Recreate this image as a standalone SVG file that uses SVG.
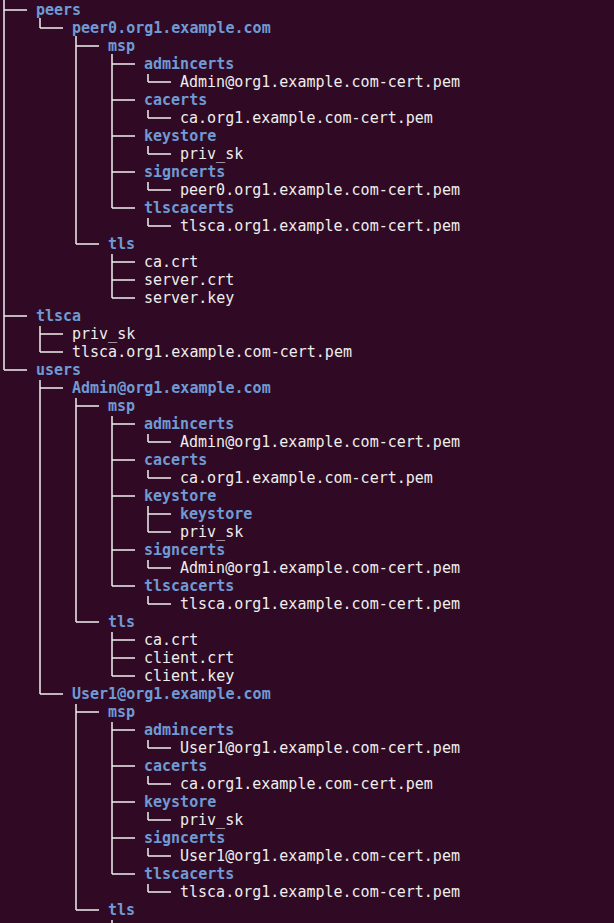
<svg xmlns="http://www.w3.org/2000/svg" width="614" height="923" viewBox="0 0 614 923">
<style>
text{font-family:"DejaVu Sans Mono","Liberation Mono",monospace;font-size:15px}
.d{fill:#6f9ad4;font-weight:bold}
.f{fill:#eeeeec}
.l{stroke:#eeeeec;stroke-width:1.5;fill:none}
</style>
<rect width="614" height="923" fill="#300a24"/>
<g id="connectors">
<path class="l" d="M4 0V370 M40 18V28 M40 326V352 M40 380V694 M76 36V244 M76 398V622 M76 704V910 M112 54V208 M112 254V298 M112 416V586 M112 632V676 M112 722V874 M112 920V923 M148 74V82 M148 110V118 M148 146V154 M148 182V190 M148 218V226 M148 434V442 M148 470V478 M148 506V532 M148 560V568 M148 596V604 M148 740V748 M148 776V784 M148 812V820 M148 848V856 M148 884V892"/>
<path class="l" d="M4 10H27 M40 28H63 M76 46H99 M112 64H135 M148 82H171 M112 100H135 M148 118H171 M112 136H135 M148 154H171 M112 172H135 M148 190H171 M112 208H135 M148 226H171 M76 244H99 M112 262H135 M112 280H135 M112 298H135 M4 316H27 M40 334H63 M40 352H63 M4 370H27 M40 388H63 M76 406H99 M112 424H135 M148 442H171 M112 460H135 M148 478H171 M112 496H135 M148 514H171 M148 532H171 M112 550H135 M148 568H171 M112 586H135 M148 604H171 M76 622H99 M112 640H135 M112 658H135 M112 676H135 M40 694H63 M76 712H99 M112 730H135 M148 748H171 M112 766H135 M148 784H171 M112 802H135 M148 820H171 M112 838H135 M148 856H171 M112 874H135 M148 892H171 M76 910H99"/>
</g>
<g id="n-peers"><text class="d" x="36" y="15">peers</text></g>
<g id="n-peer0"><text class="d" x="72" y="33">peer0.org1.example.com</text></g>
<g id="n-msp1"><text class="d" x="108" y="51">msp</text></g>
<g id="n-admincerts1"><text class="d" x="144" y="69">admincerts</text><text class="f" x="180" y="87">Admin@org1.example.com-cert.pem</text></g>
<g id="n-cacerts1"><text class="d" x="144" y="105">cacerts</text><text class="f" x="180" y="123">ca.org1.example.com-cert.pem</text></g>
<g id="n-keystore1"><text class="d" x="144" y="141">keystore</text><text class="f" x="180" y="159">priv_sk</text></g>
<g id="n-signcerts1"><text class="d" x="144" y="177">signcerts</text><text class="f" x="180" y="195">peer0.org1.example.com-cert.pem</text></g>
<g id="n-tlscacerts1"><text class="d" x="144" y="213">tlscacerts</text><text class="f" x="180" y="231">tlsca.org1.example.com-cert.pem</text></g>
<g id="n-tls1"><text class="d" x="108" y="249">tls</text><text class="f" x="144" y="267">ca.crt</text><text class="f" x="144" y="285">server.crt</text><text class="f" x="144" y="303">server.key</text></g>
<g id="n-tlsca"><text class="d" x="36" y="321">tlsca</text><text class="f" x="72" y="339">priv_sk</text><text class="f" x="72" y="357">tlsca.org1.example.com-cert.pem</text></g>
<g id="n-users"><text class="d" x="36" y="375">users</text></g>
<g id="n-admin"><text class="d" x="72" y="393">Admin@org1.example.com</text></g>
<g id="n-msp2"><text class="d" x="108" y="411">msp</text></g>
<g id="n-admincerts2"><text class="d" x="144" y="429">admincerts</text><text class="f" x="180" y="447">Admin@org1.example.com-cert.pem</text></g>
<g id="n-cacerts2"><text class="d" x="144" y="465">cacerts</text><text class="f" x="180" y="483">ca.org1.example.com-cert.pem</text></g>
<g id="n-keystore2"><text class="d" x="144" y="501">keystore</text><text class="d" x="180" y="519">keystore</text><text class="f" x="180" y="537">priv_sk</text></g>
<g id="n-signcerts2"><text class="d" x="144" y="555">signcerts</text><text class="f" x="180" y="573">Admin@org1.example.com-cert.pem</text></g>
<g id="n-tlscacerts2"><text class="d" x="144" y="591">tlscacerts</text><text class="f" x="180" y="609">tlsca.org1.example.com-cert.pem</text></g>
<g id="n-tls2"><text class="d" x="108" y="627">tls</text><text class="f" x="144" y="645">ca.crt</text><text class="f" x="144" y="663">client.crt</text><text class="f" x="144" y="681">client.key</text></g>
<g id="n-user1"><text class="d" x="72" y="699">User1@org1.example.com</text></g>
<g id="n-msp3"><text class="d" x="108" y="717">msp</text></g>
<g id="n-admincerts3"><text class="d" x="144" y="735">admincerts</text><text class="f" x="180" y="753">User1@org1.example.com-cert.pem</text></g>
<g id="n-cacerts3"><text class="d" x="144" y="771">cacerts</text><text class="f" x="180" y="789">ca.org1.example.com-cert.pem</text></g>
<g id="n-keystore3"><text class="d" x="144" y="807">keystore</text><text class="f" x="180" y="825">priv_sk</text></g>
<g id="n-signcerts3"><text class="d" x="144" y="843">signcerts</text><text class="f" x="180" y="861">User1@org1.example.com-cert.pem</text></g>
<g id="n-tlscacerts3"><text class="d" x="144" y="879">tlscacerts</text><text class="f" x="180" y="897">tlsca.org1.example.com-cert.pem</text></g>
<g id="n-tls3"><text class="d" x="108" y="915">tls</text></g>
</svg>
